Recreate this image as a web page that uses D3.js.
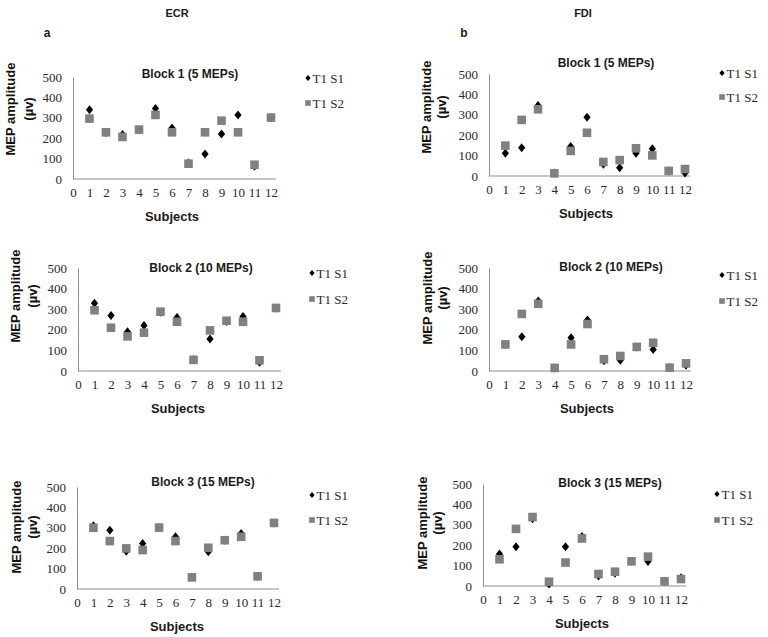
<!DOCTYPE html>
<html>
<head>
<meta charset="utf-8">
<script src="https://cdn.jsdelivr.net/npm/d3@7"></script>
<style>
  html, body { margin: 0; padding: 0; background: #fff; }
  svg { display: block; }
</style>
</head>
<body>
<svg id="chart" width="768" height="637"></svg>
<script>
// ---------- DATA ----------
const subjects = [1, 2, 3, 4, 5, 6, 7, 8, 9, 10, 11, 12];
const xTickLabels = [0, 1, 2, 3, 4, 5, 6, 7, 8, 9, 10, 11, 12];
const yTickLabels = [0, 100, 200, 300, 400, 500];
const seriesNames = ["T1 S1", "T1 S2"];
const columnTitles = ["ECR", "FDI"];
const panelLetters = ["a", "b"];
const blockTitles = ["Block 1 (5 MEPs)", "Block 2 (10 MEPs)", "Block 3 (15 MEPs)"];

const ecrBlock1S1 = [340, 228, 218, 242, 345, 250, 78, 123, 220, 314, 62, 300];
const ecrBlock1S2 = [296, 229, 206, 242, 314, 229, 75, 229, 286, 229, 70, 301];
const fdiBlock1S1 = [111, 139, 346, 15, 144, 288, 57, 41, 111, 134, 25, 15];
const fdiBlock1S2 = [149, 275, 327, 13, 123, 212, 69, 78, 136, 101, 25, 34];

const ecrBlock2S1 = [329, 270, 190, 221, 285, 260, 55, 155, 240, 265, 42, 306];
const ecrBlock2S2 = [295, 210, 168, 186, 288, 239, 54, 197, 244, 239, 52, 306];
const fdiBlock2S1 = [129, 166, 340, 15, 161, 248, 50, 52, 117, 104, 16, 28];
const fdiBlock2S2 = [129, 277, 326, 15, 129, 228, 57, 73, 117, 137, 16, 37];

const ecrBlock3S1 = [310, 288, 185, 223, 300, 256, 57, 182, 239, 272, 62, 324];
const ecrBlock3S2 = [300, 235, 199, 191, 301, 235, 57, 202, 239, 256, 62, 324];
const fdiBlock3S1 = [157, 193, 330, 10, 193, 243, 49, 62, 121, 120, 23, 40];
const fdiBlock3S2 = [131, 280, 338, 21, 115, 233, 59, 70, 121, 144, 23, 34];

// ---------- LAYOUT ----------
const panels = [
  { title: blockTitles[0], s1: ecrBlock1S1, s2: ecrBlock1S2,
    ax: 73, x12: 271, yb: 179, yt: 77, tx: 190, ty: 74, lx: 308, ly1: 78, ly2: 103, ylx: 10, ylx2: 28, yly: 109, sx: 172, sy: 216 },
  { title: blockTitles[0], s1: fdiBlock1S1, s2: fdiBlock1S2,
    ax: 489, x12: 685, yb: 176, yt: 74, tx: 606, ty: 63, lx: 722, ly1: 73, ly2: 97, ylx: 426, ylx2: 441, yly: 107, sx: 586, sy: 213 },
  { title: blockTitles[1], s1: ecrBlock2S1, s2: ecrBlock2S2,
    ax: 78, x12: 276, yb: 371, yt: 268, tx: 201, ty: 268, lx: 312, ly1: 273, ly2: 299, ylx: 15, ylx2: 32, yly: 296, sx: 178, sy: 408 },
  { title: blockTitles[1], s1: fdiBlock2S1, s2: fdiBlock2S2,
    ax: 489, x12: 686, yb: 371, yt: 268, tx: 611, ty: 267, lx: 722, ly1: 275, ly2: 301, ylx: 427, ylx2: 442, yly: 298, sx: 587, sy: 408 },
  { title: blockTitles[2], s1: ecrBlock3S1, s2: ecrBlock3S2,
    ax: 77, x12: 274, yb: 589, yt: 487, tx: 203, ty: 482, lx: 312, ly1: 495, ly2: 520, ylx: 16, ylx2: 32, yly: 527, sx: 177, sy: 626 },
  { title: blockTitles[2], s1: fdiBlock3S1, s2: fdiBlock3S2,
    ax: 483, x12: 681, yb: 586, yt: 484, tx: 610, ty: 483, lx: 717, ly1: 494, ly2: 520, ylx: 422, ylx2: 437, yly: 523, sx: 582, sy: 623 }
];

const svg = d3.select("#chart");
const sans = "'Liberation Sans', Arial, sans-serif";
const serif = "'Liberation Serif', 'Times New Roman', serif";
const diamondPath = "M0,-4.5L3.6,0L0,4.5L-3.6,0Z";

// Column headers
[[177, 583], [47, 464]].forEach(() => {});
svg.append("text").attr("x", 177).attr("y", 13).attr("text-anchor", "middle").attr("dominant-baseline", "central")
  .style("font-family", sans).style("font-weight", "bold").style("font-size", "11px").attr("fill", "#1a1a1a").text(columnTitles[0]);
svg.append("text").attr("x", 583).attr("y", 13).attr("text-anchor", "middle").attr("dominant-baseline", "central")
  .style("font-family", sans).style("font-weight", "bold").style("font-size", "11px").attr("fill", "#1a1a1a").text(columnTitles[1]);
svg.append("text").attr("x", 47).attr("y", 33).attr("text-anchor", "middle").attr("dominant-baseline", "central")
  .style("font-family", sans).style("font-weight", "bold").style("font-size", "12px").attr("fill", "#1a1a1a").text(panelLetters[0]);
svg.append("text").attr("x", 464).attr("y", 33).attr("text-anchor", "middle").attr("dominant-baseline", "central")
  .style("font-family", sans).style("font-weight", "bold").style("font-size", "12px").attr("fill", "#1a1a1a").text(panelLetters[1]);

panels.forEach(p => {
  const unit = (p.x12 - p.ax) / 12;
  const x = d3.scaleLinear().domain([0, 12]).range([p.ax, p.x12]);
  const y = d3.scaleLinear().domain([0, 500]).range([p.yb, p.yt]);
  const g = svg.append("g");

  // Axes
  const xAxis = d3.axisBottom(x).tickValues(xTickLabels).tickSize(0).tickPadding(9).tickFormat(d3.format("d"));
  const xg = g.append("g").attr("transform", `translate(0,${p.yb})`).call(xAxis);
  xg.select(".domain").attr("d", `M${p.ax},0H${p.x12 + unit * 0.3}`).attr("stroke", "#8f8f8f");
  xg.selectAll("text").style("font-family", serif).style("font-size", "13px").attr("fill", "#2a2a2a");

  const yAxis = d3.axisLeft(y).tickValues(yTickLabels).tickSize(0).tickPadding(11);
  const yg = g.append("g").attr("transform", `translate(${p.ax},0)`).call(yAxis);
  yg.select(".domain").attr("stroke", "#8f8f8f");
  yg.selectAll("text").style("font-family", serif).style("font-size", "13px").attr("fill", "#2a2a2a");

  // Series 1: diamonds
  g.selectAll(".d").data(subjects.map((s, i) => [s, p.s1[i]])).enter().append("path")
    .attr("d", diamondPath).attr("transform", d => `translate(${x(d[0])},${y(d[1])})`).attr("fill", "#000");
  // Series 2: squares
  const sq = 8.6;
  g.selectAll(".s").data(subjects.map((s, i) => [s, p.s2[i]])).enter().append("rect")
    .attr("x", d => x(d[0]) - sq / 2).attr("y", d => y(d[1]) - sq / 2)
    .attr("width", sq).attr("height", sq).attr("fill", "#808080");

  // Title
  g.append("text").attr("x", p.tx).attr("y", p.ty).attr("text-anchor", "middle").attr("dominant-baseline", "central")
    .style("font-family", sans).style("font-weight", "bold").style("font-size", "12px").attr("fill", "#1a1a1a").text(p.title);

  // Legend
  g.append("path").attr("d", "M0,-3L2.6,0L0,3L-2.6,0Z").attr("transform", `translate(${p.lx},${p.ly1})`).attr("fill", "#000");
  g.append("text").attr("x", p.lx + 4.5).attr("y", p.ly1).attr("dominant-baseline", "central")
    .style("font-family", serif).style("font-size", "13px").attr("fill", "#2a2a2a").text(seriesNames[0]);
  g.append("rect").attr("x", p.lx - 2.8).attr("y", p.ly2 - 2.8).attr("width", 5.6).attr("height", 5.6).attr("fill", "#808080");
  g.append("text").attr("x", p.lx + 4.5).attr("y", p.ly2).attr("dominant-baseline", "central")
    .style("font-family", serif).style("font-size", "13px").attr("fill", "#2a2a2a").text(seriesNames[1]);

  // Y label
  g.append("text").attr("transform", `translate(${p.ylx},${p.yly}) rotate(-90)`).attr("text-anchor", "middle").attr("dominant-baseline", "central")
    .style("font-family", sans).style("font-weight", "bold").style("font-size", "13px").attr("fill", "#111").text("MEP amplitude");
  g.append("text").attr("transform", `translate(${p.ylx2},${p.yly}) rotate(-90)`).attr("text-anchor", "middle").attr("dominant-baseline", "central")
    .style("font-family", sans).style("font-weight", "bold").style("font-size", "13px").attr("fill", "#111").text("(µv)");

  // X label
  g.append("text").attr("x", p.sx).attr("y", p.sy).attr("text-anchor", "middle").attr("dominant-baseline", "central")
    .style("font-family", sans).style("font-weight", "bold").style("font-size", "13px").attr("fill", "#1a1a1a").text("Subjects");
});
</script>
</body>
</html>
